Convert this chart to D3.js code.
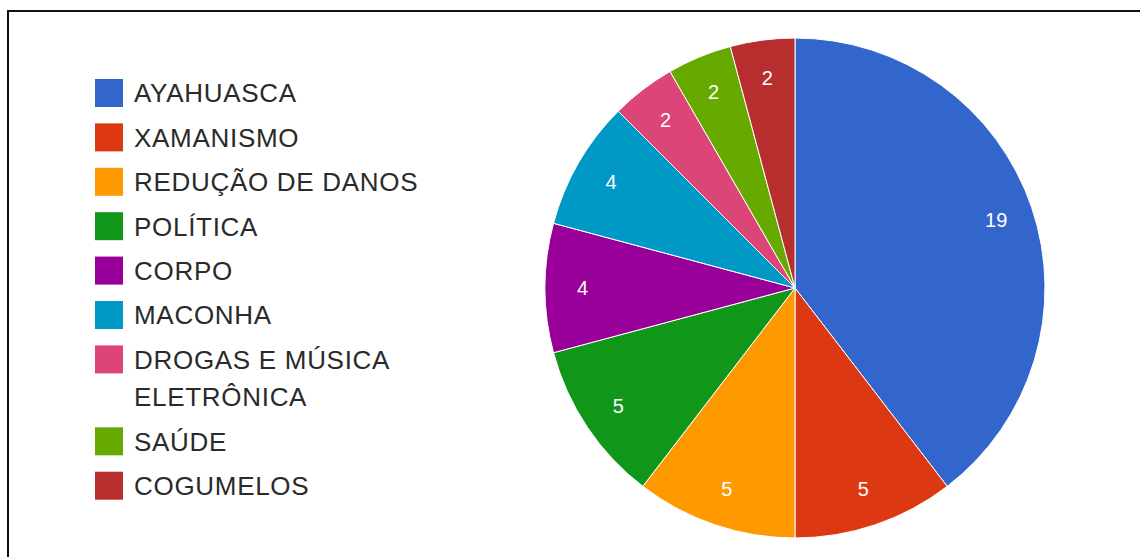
<!DOCTYPE html>
<html>
<head>
<meta charset="utf-8">
<script src="https://cdn.jsdelivr.net/npm/d3@7"></script>
<style>
  body { margin: 0; background: #fff; }
  svg { display: block; font-family: "Liberation Sans", Arial, sans-serif; }
</style>
</head>
<body>
<div id="canvas"></div>
<script>
// data
const categories = ["AYAHUASCA", "XAMANISMO", "REDUÇÃO DE DANOS", "POLÍTICA", "CORPO",
  "MACONHA", "DROGAS E MÚSICA ELETRÔNICA", "SAÚDE", "COGUMELOS"];
const values = [19, 5, 5, 5, 4, 4, 2, 2, 2];
const colors = ["#3366cc", "#dc3912", "#ff9900", "#109618", "#990099",
  "#0099c6", "#dd4477", "#66aa00", "#b82e2e"];

const width = 1140;
const height = 557;

const svg = d3.select("#canvas").append("svg")
    .attr("width", width)
    .attr("height", height);

// frame
svg.append("rect")
    .attr("x", 8)
    .attr("y", 11)
    .attr("width", width)
    .attr("height", height)
    .attr("fill", "none")
    .attr("stroke", "#111")
    .attr("stroke-width", 2);

const data = categories.map((c, i) => ({name: c, value: values[i], color: colors[i]}));

// pie
const radius = 250;
const pieG = svg.append("g").attr("transform", "translate(795, 288)");

const pie = d3.pie().sort(null).value(d => d.value);
const arc = d3.arc().innerRadius(0).outerRadius(radius);
const labelArc = d3.arc().innerRadius(radius * 0.85).outerRadius(radius * 0.85);

const arcs = pie(data);

pieG.selectAll("path").data(arcs).enter().append("path")
    .attr("d", arc)
    .attr("fill", d => d.data.color)
    .attr("stroke", "#fff")
    .attr("stroke-width", 1);

pieG.selectAll("text").data(arcs).enter().append("text")
    .attr("transform", d => `translate(${labelArc.centroid(d)})`)
    .attr("text-anchor", "middle")
    .attr("dy", "0.36em")
    .attr("fill", "#fff")
    .style("font-size", "20px")
    .text(d => d.data.value);

// legend
const legend = svg.append("g");
const rowStep = 44.4;
const lineStep = 37.5;
const wrapWidth = 310;

let y = 93;
data.forEach(d => {
  const row = legend.append("g");
  row.append("rect")
      .attr("x", 95)
      .attr("y", y - 14)
      .attr("width", 28)
      .attr("height", 28)
      .attr("fill", d.color);

  const txt = row.append("text")
      .attr("x", 134)
      .attr("y", y)
      .attr("dy", "0.36em")
      .attr("fill", "#2a2a2a")
      .style("font-size", "26px")
      .style("letter-spacing", "0.7px");

  // wrap long names
  const words = d.name.split(" ");
  let line = [];
  let lines = 0;
  let tspan = txt.append("tspan").attr("x", 134);
  words.forEach(w => {
    line.push(w);
    tspan.text(line.join(" "));
    if (tspan.node().getComputedTextLength() > wrapWidth && line.length > 1) {
      line.pop();
      tspan.text(line.join(" "));
      line = [w];
      lines++;
      tspan = txt.append("tspan").attr("x", 134).attr("dy", lineStep).text(w);
    }
  });
  y += rowStep + lines * lineStep;
});
</script>
</body>
</html>
